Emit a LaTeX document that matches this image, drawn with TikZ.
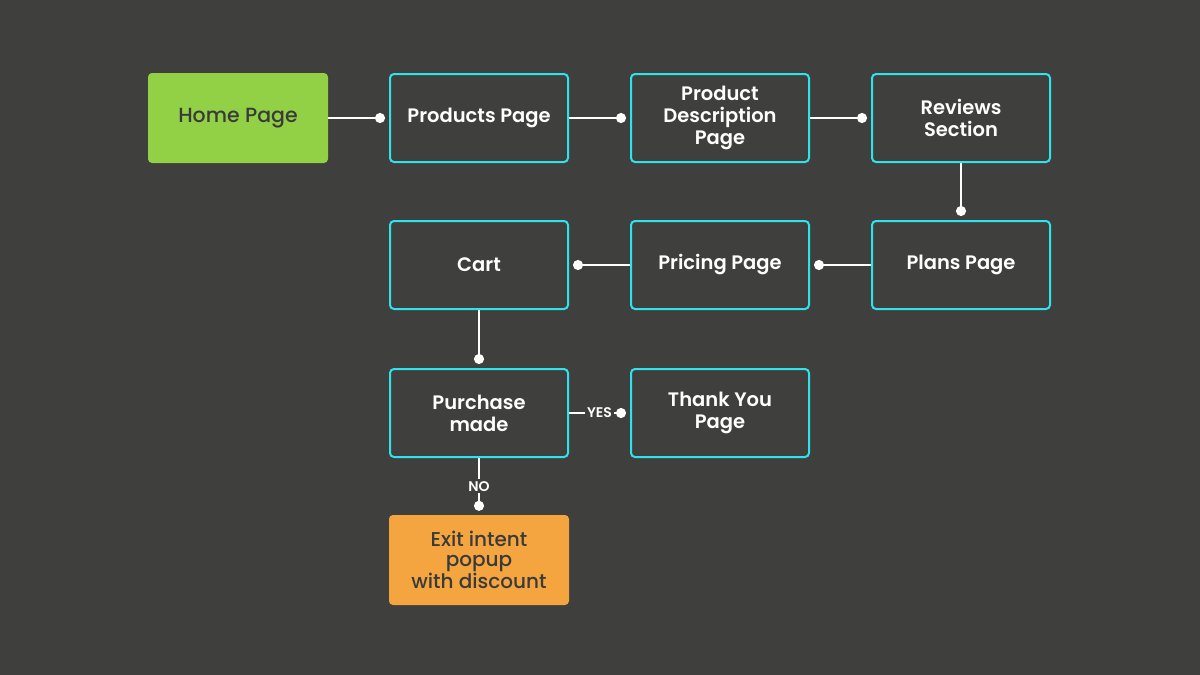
\documentclass[tikz,border=0pt]{standalone}
\usepackage{fontspec}
\setmainfont{Poppins}
\newfontfamily\pagefont{Poppins}[UprightFont={* SemiBold}]
\newfontfamily\fillfont{Poppins}[UprightFont={* Medium}]
\usetikzlibrary{arrows.meta}
\definecolor{bgcol}{HTML}{3F3F3D}
\definecolor{pagecyan}{HTML}{2EE3EE}
\definecolor{homegreen}{HTML}{92D145}
\definecolor{exitorange}{HTML}{F4A540}
\definecolor{darktext}{HTML}{3A3A3A}
\tikzset{
  page/.style={draw=pagecyan, line width=2pt, rounded corners=4pt,
    minimum width=178pt, minimum height=88pt, text=white, align=center,
    font=\pagefont\fontsize{19.5}{22}\selectfont},
  filled/.style={rounded corners=4pt, minimum width=180pt, minimum height=90pt,
    text=darktext, align=center, font=\fillfont\fontsize{20.5}{21}\selectfont},
  link/.style={draw=white, line width=2pt, -{Circle[length=10pt]}, shorten >=4pt},
  choice/.style={fill=bgcol, text=white, inner sep=2pt, font=\pagefont\fontsize{14}{14}\selectfont}
}
\begin{document}
\begin{tikzpicture}[x=1pt, y=-1pt]
  \fill[bgcol] (0,0) rectangle (1200,675);
  \useasboundingbox (0,0) rectangle (1200,675);
  \node[filled, fill=homegreen] (home) at (238,118) {Home Page};
  \node[page] (products) at (479,118) {Products Page};
  \node[page] (desc) at (720,118) {Product\\Description\\Page};
  \node[page] (reviews) at (961,118) {Reviews\\Section};
  \node[page] (plans) at (961,265) {Plans Page};
  \node[page] (pricing) at (720,265) {Pricing Page};
  \node[page] (cart) at (479,265) {Cart};
  \node[page] (purchase) at (479,413) {Purchase\\made};
  \node[page] (thanks) at (720,413) {Thank You\\Page};
  \node[filled, fill=exitorange, font=\fillfont\fontsize{20}{20}\selectfont] (exit) at (479,560) {Exit intent\\popup\\with discount};
  \begin{scope}[link]
    \draw (home) to (products);
    \draw (products) to (desc);
    \draw (desc) to (reviews);
    \draw (reviews) to (plans);
    \draw (plans) to (pricing);
    \draw (pricing) to (cart);
    \draw (cart) to (purchase);
    \draw (purchase) to node[choice] {YES} (thanks);
    \draw (purchase) to node[choice] {NO} (exit);
  \end{scope}
\end{tikzpicture}
\end{document}
